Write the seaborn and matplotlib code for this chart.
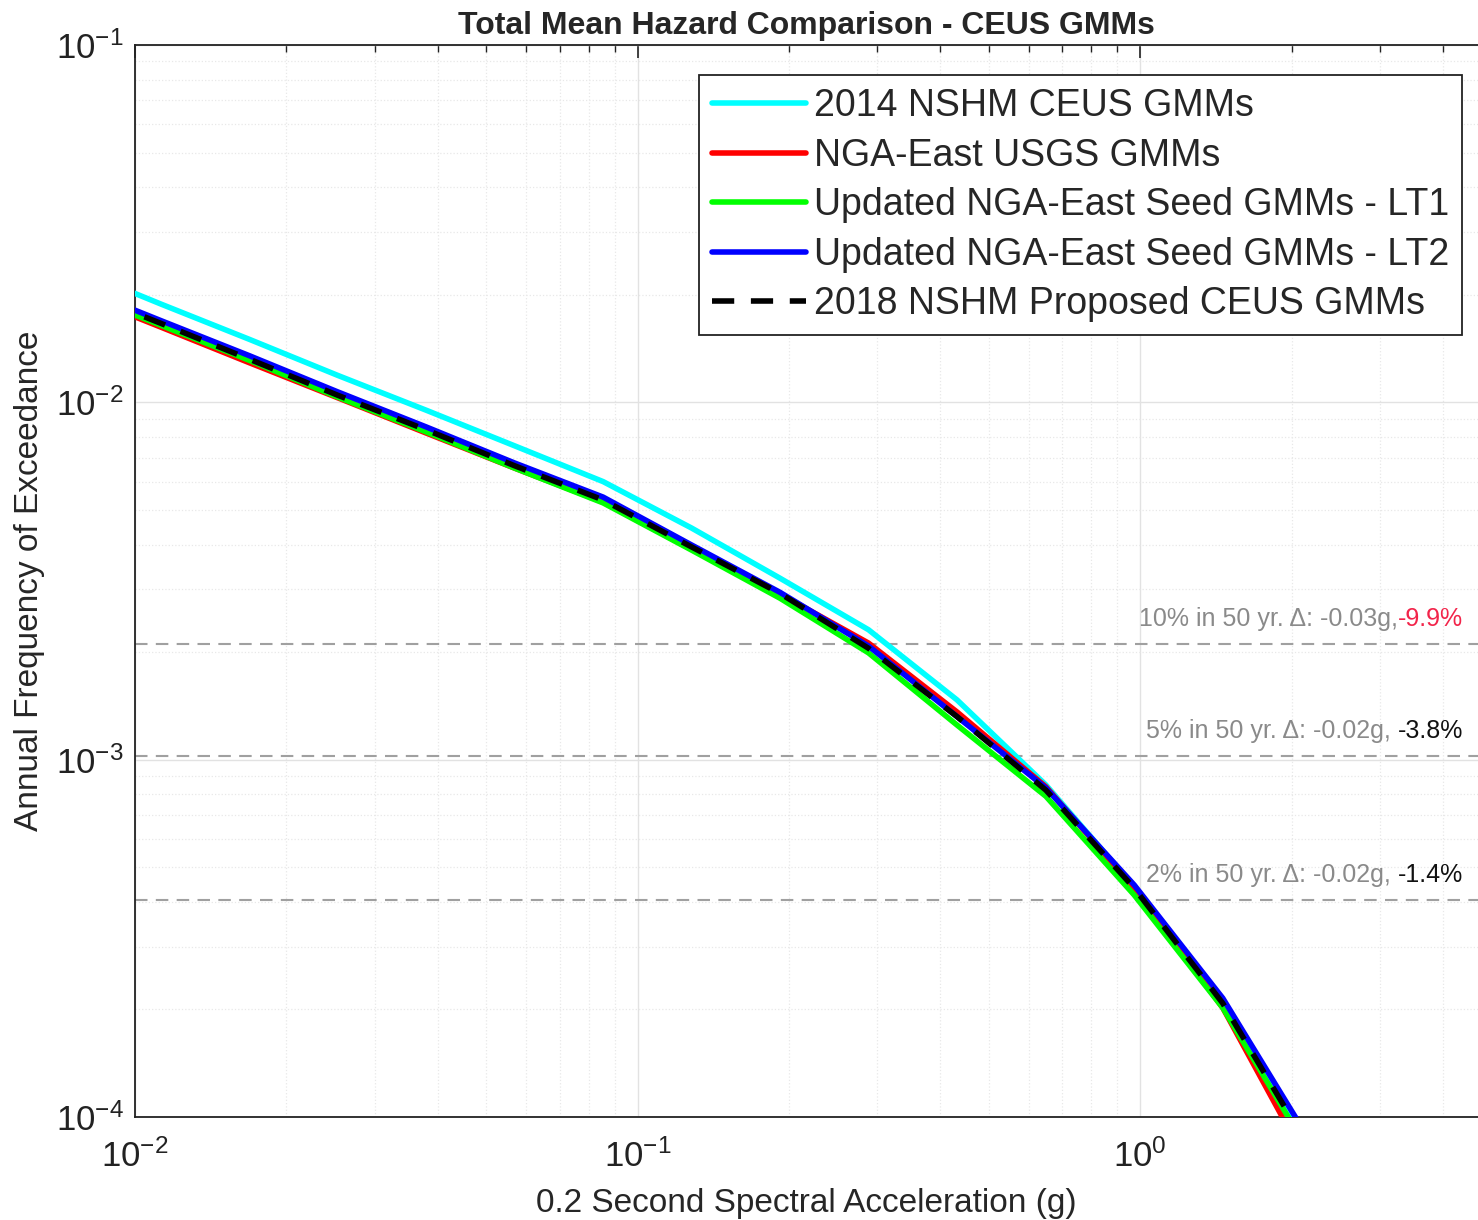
import numpy as np
import pandas as pd
import matplotlib
matplotlib.use("Agg")
import matplotlib.pyplot as plt
import seaborn as sns

# Ground motion levels (g) and mean annual exceedance rates
sa = [0.0075, 0.0113, 0.0169, 0.0253, 0.038, 0.057, 0.0854, 0.128,
      0.192, 0.288, 0.432, 0.649, 0.973, 1.46, 2.19]

ceus_2014 = [0.0238, 0.0188, 0.0150, 0.0119, 0.0095, 0.00755, 0.00600, 0.00445,
             0.00322, 0.00231, 0.00147, 0.00085, 0.00044, 0.000212, 7.9e-5]
nga_usgs = [0.0204, 0.0162, 0.0129, 0.0103, 0.0082, 0.00654, 0.00526, 0.00388,
            0.00291, 0.00212, 0.00136, 0.00084, 0.000437, 0.000202, 7.1e-5]
seed_lt1 = [0.0206, 0.0164, 0.0131, 0.01035, 0.00826, 0.00654, 0.00523, 0.00386,
            0.00283, 0.00199, 0.00125, 0.00079, 0.000418, 0.000202, 7.8e-5]
seed_lt2 = [0.0213, 0.0169, 0.0135, 0.0107, 0.00853, 0.00676, 0.00543, 0.00399,
            0.00294, 0.00208, 0.00132, 0.000834, 0.000446, 0.000215, 8.45e-5]
nshm_2018 = [0.0209, 0.0166, 0.0132, 0.01047, 0.00837, 0.00664, 0.00533, 0.00394,
             0.00292, 0.00205, 0.00132, 0.000822, 0.000437, 0.000208, 8.0e-5]

labels = ["2014 NSHM CEUS GMMs", "NGA-East USGS GMMs",
          "Updated NGA-East Seed GMMs - LT1", "Updated NGA-East Seed GMMs - LT2",
          "2018 NSHM Proposed CEUS GMMs"]
colors = ["#00ffff", "#ff0000", "#00ff00", "#0000ff", "#000000"]

# Hazard levels: probability of exceedance in 50 years
levels = [0.002107, 0.001026, 0.000404]
level_text = ["10% in 50 yr. \u0394: -0.03g,", "5% in 50 yr. \u0394: -0.02g, ", "2% in 50 yr. \u0394: -0.02g, "]
level_pct = ["-9.9%", "-3.8%", "-1.4%"]
pct_colors = ["#f2244a", "#111111", "#111111"]

df = pd.DataFrame({"sa": sa * 5,
                   "rate": ceus_2014 + nga_usgs + seed_lt1 + seed_lt2 + nshm_2018,
                   "model": np.repeat(labels, len(sa))})

sns.set_theme(style="white")
plt.rcParams["font.family"] = ["Liberation Sans", "DejaVu Sans"]
plt.rcParams["mathtext.fontset"] = "custom"
plt.rcParams["mathtext.rm"] = "Liberation Sans"
plt.rcParams["mathtext.default"] = "regular"

fig = plt.figure(figsize=(14.78, 12.2), dpi=100)
ax = fig.add_axes([135 / 1478, 1 - 1117 / 1220, 1 - 135 / 1478, (1117 - 45) / 1220])

# hazard level reference lines
for lv in levels:
    ax.axhline(lv, color="#a0a0a0", lw=1.5, ls=(0, (6, 4)), zorder=1)

for lab, col in zip(labels, colors):
    sub = df[df["model"] == lab]
    ls = (0, (4, 3)) if lab.startswith("2018") else "-"
    sns.lineplot(data=sub, x="sa", y="rate", color=col, lw=4, ax=ax,
                 label=lab, linestyle=ls, zorder=3, estimator=None, sort=False)

ax.set_xscale("log")
ax.set_yscale("log")
ax.set_xlim(0.01, 4.7)
ax.set_ylim(1e-4, 1e-1)

ax.grid(which="major", color="#e2e2e2", lw=1.0, ls="-")
ax.grid(which="minor", color="#e8e8e8", lw=0.9, ls=":")
ax.set_axisbelow(True)

for s in ax.spines.values():
    s.set_color("#222222")
    s.set_linewidth(1.3)
ax.spines["right"].set_visible(False)
ax.tick_params(which="both", direction="in", top=True, right=False, colors="#222222")
ax.tick_params(which="major", length=9, width=1.2, labelsize=25, pad=8)
ax.tick_params(which="minor", length=5, width=1.0)
ax.tick_params(axis="x", which="major", pad=16)

ax.set_xlabel("0.2 Second Spectral Acceleration (g)", fontsize=24, color="#262626", labelpad=10)
ax.set_ylabel("Annual Frequency of Exceedance", fontsize=24, color="#262626", labelpad=8)
ax.set_title("Total Mean Hazard Comparison - CEUS GMMs", fontsize=23, fontweight="bold", pad=8)

for lv, txt, pct, pc in zip(levels, level_text, level_pct, pct_colors):
    t = ax.annotate(pct, xy=(0.989, lv), xycoords=("axes fraction", "data"),
                    xytext=(0, 18), textcoords="offset points",
                    ha="right", va="center", fontsize=18, color=pc, zorder=4)
    ax.annotate(txt, xy=(0, 0.5), xycoords=t, ha="right", va="center",
                fontsize=18, color="#8a8a8a", zorder=4)

leg = ax.legend(loc="upper right", fontsize=27, frameon=True, fancybox=False,
                edgecolor="#222222", framealpha=1, handlelength=2.5,
                handletextpad=0.2, labelspacing=0.36, borderpad=0.35,
                borderaxespad=0.0, bbox_to_anchor=((1462 - 135) / 1343, 1 - 30 / 1072))
leg.get_frame().set_linewidth(1.3)

fig.savefig("out.png", dpi=100)
